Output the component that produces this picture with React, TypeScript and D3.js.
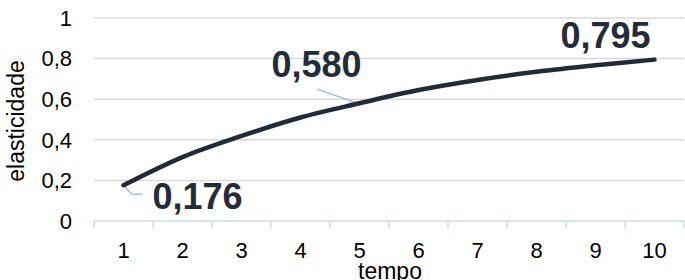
import React, { useRef, useEffect } from 'react';
import { select, scaleLinear, scaleBand, line, curveCatmullRom } from 'd3';

const tempo = ['1', '2', '3', '4', '5', '6', '7', '8', '9', '10'];
const elasticidade = [0.176, 0.315, 0.419, 0.51, 0.58, 0.645, 0.695, 0.735, 0.767, 0.795];
const yTicks = [0, 0.2, 0.4, 0.6, 0.8, 1];
const labelled = [0, 4, 9];

const W = 685;
const H = 280;
const left = 94;
const right = 684;
const top = 18;
const bottom = 221;

const fmt = (v: number) => String(v).replace('.', ',');

const App = () => {
  const svgRef = useRef<SVGSVGElement>(null);

  useEffect(() => {
    const svg = select(svgRef.current);
    svg.selectAll('*').remove();

    const x = scaleBand().domain(tempo).range([left, right]);
    const y = scaleLinear().domain([0, 1]).range([bottom, top]);
    const cx = (i: number) => (x(tempo[i]) as number) + x.bandwidth() / 2;

    // gridlines
    svg
      .selectAll('.grid')
      .data(yTicks.filter((t) => t > 0))
      .join('line')
      .attr('x1', left)
      .attr('x2', right)
      .attr('y1', (d) => y(d))
      .attr('y2', (d) => y(d))
      .attr('stroke', '#d9d9d9')
      .attr('stroke-width', 1.5);

    // y labels
    svg
      .selectAll('.ylab')
      .data(yTicks)
      .join('text')
      .attr('x', 72)
      .attr('y', (d) => y(d))
      .attr('dy', '0.35em')
      .attr('text-anchor', 'end')
      .attr('font-size', 22)
      .attr('fill', '#000')
      .text((d) => fmt(d));

    // x axis
    svg
      .append('line')
      .attr('x1', left)
      .attr('x2', right)
      .attr('y1', bottom)
      .attr('y2', bottom)
      .attr('stroke', '#c9dcf0')
      .attr('stroke-width', 1.5);

    const edges = tempo.map((t) => x(t) as number).concat([right]);
    svg
      .selectAll('.xtick')
      .data(edges)
      .join('line')
      .attr('x1', (d) => d)
      .attr('x2', (d) => d)
      .attr('y1', bottom)
      .attr('y2', bottom + 7)
      .attr('stroke', '#c9dcf0')
      .attr('stroke-width', 1.5);

    svg
      .selectAll('.xlab')
      .data(tempo)
      .join('text')
      .attr('x', (d, i) => cx(i))
      .attr('y', 258)
      .attr('text-anchor', 'middle')
      .attr('font-size', 22)
      .attr('fill', '#000')
      .text((d) => d);

    // axis titles
    svg
      .append('text')
      .attr('x', 390)
      .attr('y', 279)
      .attr('text-anchor', 'middle')
      .attr('font-size', 23)
      .attr('fill', '#000')
      .text('tempo');

    svg
      .append('text')
      .attr('transform', 'translate(24,121) rotate(-90)')
      .attr('text-anchor', 'middle')
      .attr('font-size', 23)
      .attr('fill', '#000')
      .text('elasticidade');

    // leader lines
    const p0 = [cx(0), y(elasticidade[0])];
    svg
      .append('path')
      .attr('d', `M${p0[0]},${p0[1]}L${p0[0] + 8},${p0[1] + 9}L${p0[0] + 19},${p0[1] + 9}`)
      .attr('fill', 'none')
      .attr('stroke', '#9dc3e6')
      .attr('stroke-width', 1.5);
    const p4 = [cx(4), y(elasticidade[4])];
    svg
      .append('line')
      .attr('x1', p4[0] - 2)
      .attr('y1', p4[1])
      .attr('x2', p4[0] - 42)
      .attr('y2', p4[1] - 14)
      .attr('stroke', '#9dc3e6')
      .attr('stroke-width', 1.5);

    const myLine = line<number>()
      .x((d, i) => cx(i))
      .y((d) => y(d))
      .curve(curveCatmullRom);

    svg
      .append('path')
      .datum(elasticidade)
      .attr('d', myLine)
      .attr('fill', 'none')
      .attr('stroke', '#222b38')
      .attr('stroke-width', 4.5)
      .attr('stroke-linecap', 'round');

    // data labels
    const offsets: Record<number, [number, number]> = {
      0: [29, 24],
      4: [-88, -26],
      9: [-94, -12],
    };
    svg
      .selectAll('.dlab')
      .data(labelled)
      .join('text')
      .attr('x', (i) => cx(i) + offsets[i][0])
      .attr('y', (i) => y(elasticidade[i]) + offsets[i][1])
      .attr('font-size', 36)
      .attr('font-weight', 'bold')
      .attr('fill', '#232c3a')
      .text((i) => elasticidade[i].toFixed(3).replace('.', ','));
  }, []);

  return (
    <svg
      ref={svgRef}
      width={W}
      height={H}
      style={{ position: 'absolute', left: 0, top: 0, fontFamily: 'Liberation Sans, Arial, sans-serif' }}
    />
  );
};

export default App;
